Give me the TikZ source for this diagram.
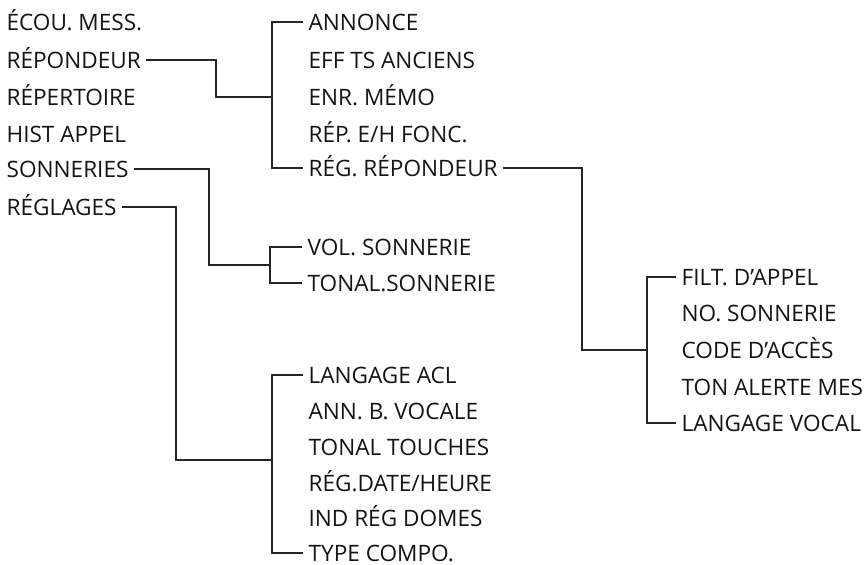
\documentclass[tikz,border=0pt]{standalone}
\usepackage{fontspec}
\setmainfont{Open Sans}
\tikzset{ %styles for the menu tree
  menuitem/.style={anchor=west, inner xsep=2.6pt, inner ysep=0pt,
    text height=8pt, text depth=0pt, text=black!92,
    font=\fontsize{11.3}{13}\selectfont},
  menuline/.style={draw=black!85, line width=0.65pt}
}
\begin{document}
\begin{tikzpicture}[x=0.5pt,y=-0.5pt] % 1 unit = 1 pixel of the reference
\useasboundingbox (0,0) rectangle (867,564);

% main menu
\node[menuitem] (ecou)   at (1,22)  {ÉCOU. MESS.};
\node[menuitem] (rep)    at (1,60)  {RÉPONDEUR};
\node[menuitem] (repert) at (1,97)  {RÉPERTOIRE};
\node[menuitem] (hist)   at (1,134) {HIST APPEL};
\node[menuitem] (sonn)   at (1,169) {SONNERIES};
\node[menuitem] (regl)   at (1,207) {RÉGLAGES};

% sub menu of RÉPONDEUR
\node[menuitem] (annonce) at (303,22)  {ANNONCE};
\node[menuitem] (eff)     at (303,60)  {EFF TS ANCIENS};
\node[menuitem] (enr)     at (303,97)  {ENR. MÉMO};
\node[menuitem] (repeh)   at (303,134) {RÉP. E/H FONC.};
\node[menuitem] (regrep)  at (303,168) {RÉG. RÉPONDEUR};

% sub menu of SONNERIES
\node[menuitem] (vol)   at (302,247) {VOL. SONNERIE};
\node[menuitem] (tonal) at (302,283) {TONAL.SONNERIE};

% sub menu of RÉGLAGES
\node[menuitem] (lang)   at (303,375) {LANGAGE ACL};
\node[menuitem] (ann)    at (303,411) {ANN. B. VOCALE};
\node[menuitem] (touch)  at (303,447) {TONAL TOUCHES};
\node[menuitem] (date)   at (303,483) {RÉG.DATE/HEURE};
\node[menuitem] (dom)    at (303,518) {IND RÉG DOMES};
\node[menuitem] (compo)  at (303,553) {TYPE COMPO.};

% sub menu of RÉG. RÉPONDEUR
\node[menuitem] (filt)   at (676,277) {FILT. D'APPEL};
\node[menuitem] (nosonn) at (676,313) {NO. SONNERIE};
\node[menuitem] (code)   at (676,350) {CODE D'ACCÈS};
\node[menuitem] (ton)    at (676,387) {TON ALERTE MES};
\node[menuitem] (vocal)  at (676,423) {LANGAGE VOCAL};

% junctions
\coordinate (jrep)    at (216,97);
\coordinate (brep)    at (272,97);
\coordinate (jsonn)   at (209,265);
\coordinate (bsonn)   at (270,265);
\coordinate (jregl)   at (176,460);
\coordinate (bregl)   at (272,460);
\coordinate (jregrep) at (582,350);
\coordinate (bregrep) at (647,350);

% connectors
\draw[menuline] (rep.east) -| (jrep) -- (brep);
\draw[menuline] (annonce.west) -| (brep) |- (regrep.west);

\draw[menuline] (sonn.east) -| (jsonn) -- (bsonn);
\draw[menuline] (vol.west) -| (bsonn) |- (tonal.west);

\draw[menuline] (regl.east) -| (jregl) -- (bregl);
\draw[menuline] (lang.west) -| (bregl) |- (compo.west);

\draw[menuline] (regrep.east) -| (jregrep) -- (bregrep);
\draw[menuline] (filt.west) -| (bregrep) |- (vocal.west);
\end{tikzpicture}
\end{document}
